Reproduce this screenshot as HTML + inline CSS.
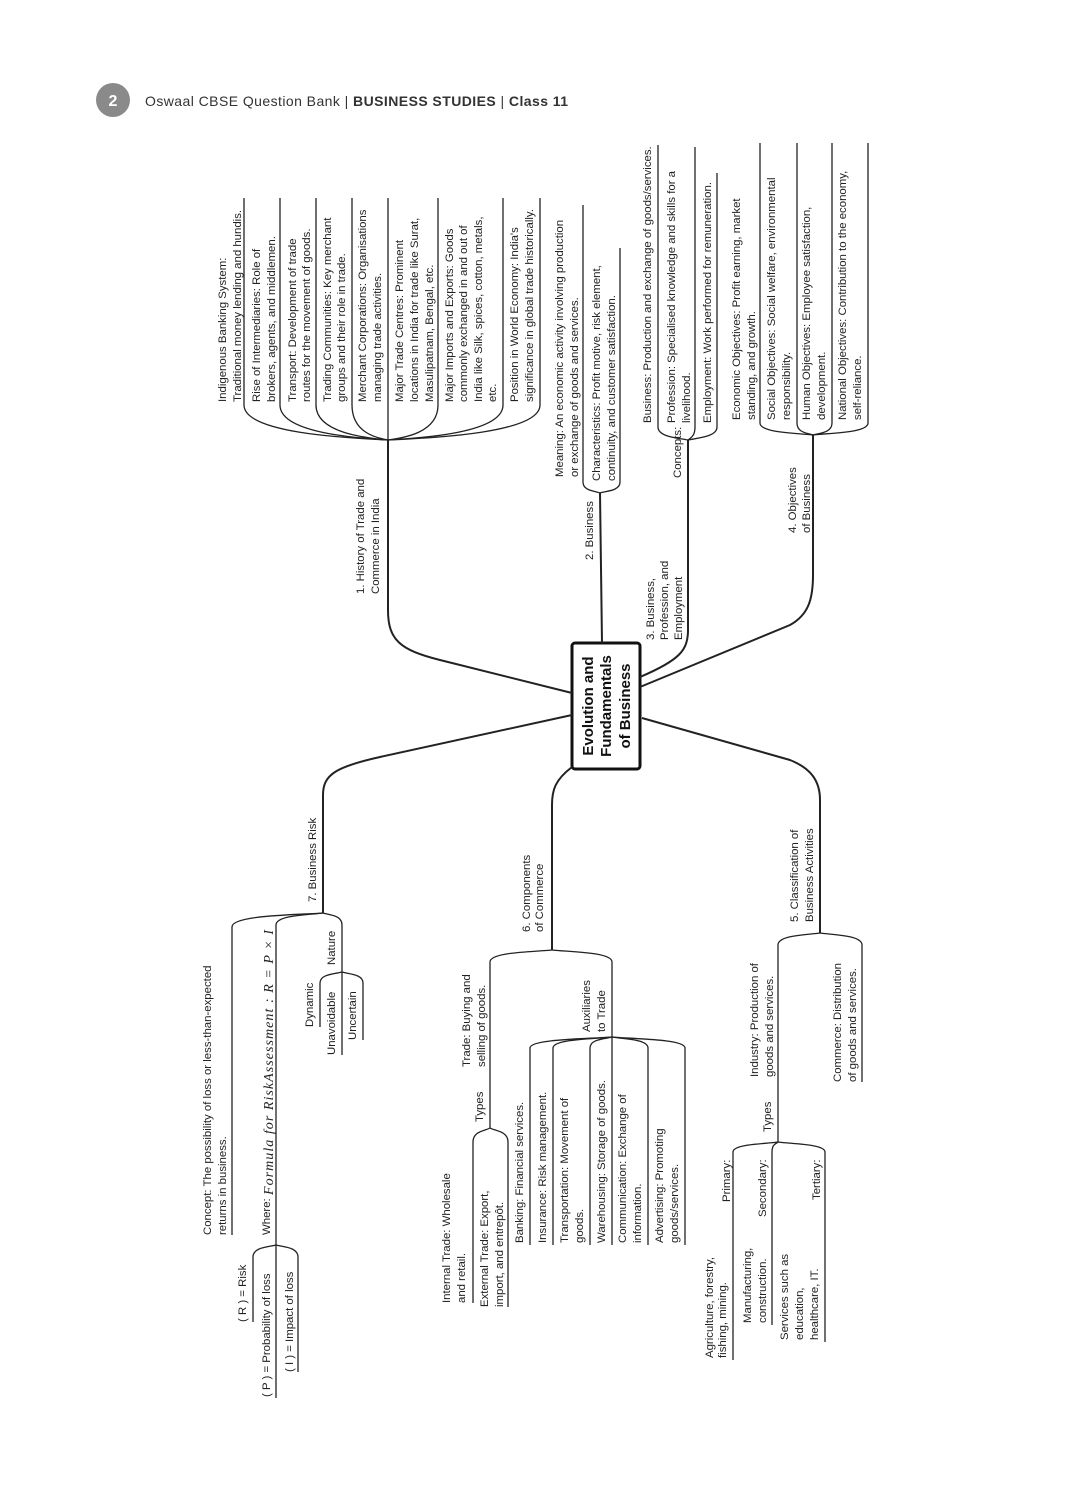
<!DOCTYPE html>
<html><head><meta charset="utf-8"><style>
html,body{margin:0;padding:0;background:#fff;}
svg{display:block}
text{font-family:"Liberation Sans",sans-serif;font-size:11.4px;fill:#222;}
.hd{font-size:14px;fill:#333;}
.ctr{font-size:15px;font-weight:bold;fill:#111;}
path{fill:none;stroke:#222;stroke-width:1.3;}
.main{stroke-width:2;}
.frm{font-family:"Liberation Serif",serif;font-style:italic;font-size:14px;}
</style></head><body>
<svg width="1091" height="1500" viewBox="0 0 1091 1500" xmlns="http://www.w3.org/2000/svg">
<circle cx="113" cy="100" r="17" fill="#8a8a8a"/>
<text x="113" y="106" text-anchor="middle" style="font-size:16px;font-weight:bold;fill:#fff">2</text>
<text class="hd" x="145" y="106" textLength="423">Oswaal CBSE Question Bank | <tspan font-weight="bold">BUSINESS STUDIES</tspan> | <tspan font-weight="bold">Class 11</tspan></text>

<rect x="572" y="643" width="68" height="126" rx="3" fill="#fff" stroke="#111" stroke-width="3"/>
<text class="ctr" text-anchor="middle" transform="translate(593,706) rotate(-90)">Evolution and</text>
<text class="ctr" text-anchor="middle" transform="translate(611,706) rotate(-90)">Fundamentals</text>
<text class="ctr" text-anchor="middle" transform="translate(630,706) rotate(-90)">of Business</text>

<path class="main" d="M572 693 L440 660 C400 650 388 640 388 610 L388 440"/>
<path class="main" d="M602 643 L600 493"/>
<path class="main" d="M640 677 C680 660 688 650 688 630 L688 440"/>
<path class="main" d="M640 687 L790 625 C808 615 813 600 813 575 L813 435"/>
<path class="main" d="M642 718 L790 760 C810 768 820 780 820 800 L820 933"/>
<path class="main" d="M572 767 C555 780 552 790 552 805 L552 950"/>
<path class="main" d="M572 715 L380 757 C335 767 323 775 323 795 L323 913"/>

<!-- Branch 1 -->
<path d="M244 198 L244 405 C244 433 345 438 388 440"/>
<path d="M280 198 L280 405 C280 433 356 438 388 440"/>
<path d="M316 198 L316 405 C316 433 366 438 388 440"/>
<path d="M352 198 L352 405 C352 433 377 438 388 440"/>
<path d="M388 198 L388 440"/>
<path d="M438 198 L438 405 C438 433 403 438 388 440"/>
<path d="M503 198 L503 405 C503 433 422 438 388 440"/>
<path d="M540 198 L540 405 C540 433 434 438 388 440"/>
<text transform="translate(364,594) rotate(-90)">1. History of Trade and</text>
<text transform="translate(379,594) rotate(-90)">Commerce in India</text>
<text transform="translate(226,402) rotate(-90)">Indigenous Banking System:</text>
<text transform="translate(241,402) rotate(-90)">Traditional money lending and hundis.</text>
<text transform="translate(260,402) rotate(-90)">Rise of Intermediaries: Role of</text>
<text transform="translate(275,402) rotate(-90)">brokers, agents, and middlemen.</text>
<text transform="translate(296,402) rotate(-90)">Transport: Development of trade</text>
<text transform="translate(310,402) rotate(-90)">routes for the movement of goods.</text>
<text transform="translate(331,402) rotate(-90)">Trading Communities: Key merchant</text>
<text transform="translate(345,402) rotate(-90)">groups and their role in trade.</text>
<text transform="translate(366,402) rotate(-90)">Merchant Corporations: Organisations</text>
<text transform="translate(381,402) rotate(-90)">managing trade activities.</text>
<text transform="translate(403,402) rotate(-90)">Major Trade Centres: Prominent</text>
<text transform="translate(418,402) rotate(-90)">locations in India for trade like Surat,</text>
<text transform="translate(433,402) rotate(-90)">Masulipatnam, Bengal, etc.</text>
<text transform="translate(453,402) rotate(-90)">Major Imports and Exports: Goods</text>
<text transform="translate(467,402) rotate(-90)">commonly exchanged in and out of</text>
<text transform="translate(482,402) rotate(-90)">India like Silk, spices, cotton, metals,</text>
<text transform="translate(496,402) rotate(-90)">etc.</text>
<text transform="translate(518,402) rotate(-90)">Position in World Economy: India's</text>
<text transform="translate(533,402) rotate(-90)">significance in global trade historically.</text>

<!-- Branch 2 -->
<path d="M583 205 L583 482 C583 491 595 491 600 493"/>
<path d="M620 248 L620 482 C620 491 606 491 600 493"/>
<text transform="translate(593,560) rotate(-90)">2. Business</text>
<text transform="translate(563,477) rotate(-90)">Meaning: An economic activity involving production</text>
<text transform="translate(578,477) rotate(-90)">or exchange of goods and services.</text>
<text transform="translate(600,481) rotate(-90)">Characteristics: Profit motive, risk element,</text>
<text transform="translate(615,481) rotate(-90)">continuity, and customer satisfaction.</text>

<!-- Branch 3 -->
<path d="M658 145 L658 427 C658 437 678 438 688 440"/>
<path d="M695 147 L695 427 C695 437 690 438 688 440"/>
<path d="M717 173 L717 427 C717 437 697 438 688 440"/>
<text transform="translate(654,640) rotate(-90)">3. Business,</text>
<text transform="translate(668,640) rotate(-90)">Profession, and</text>
<text transform="translate(682,640) rotate(-90)">Employment</text>
<text transform="translate(681,478) rotate(-90)">Concepts:</text>
<text transform="translate(651,423) rotate(-90)">Business: Production and exchange of goods/services.</text>
<text transform="translate(675,423) rotate(-90)">Profession: Specialised knowledge and skills for a</text>
<text transform="translate(690,423) rotate(-90)">livelihood.</text>
<text transform="translate(711,423) rotate(-90)">Employment: Work performed for remuneration.</text>

<!-- Branch 4 -->
<path d="M760 143 L760 423 C760 433 797 433 813 435"/>
<path d="M797 143 L797 423 C797 433 808 433 813 435"/>
<path d="M832 143 L832 423 C832 433 819 433 813 435"/>
<path d="M868 143 L868 423 C868 433 829 433 813 435"/>
<text transform="translate(796,533) rotate(-90)">4. Objectives</text>
<text transform="translate(810,533) rotate(-90)">of Business</text>
<text transform="translate(740,420) rotate(-90)">Economic Objectives: Profit earning, market</text>
<text transform="translate(755,420) rotate(-90)">standing, and growth.</text>
<text transform="translate(775,420) rotate(-90)">Social Objectives: Social welfare, environmental</text>
<text transform="translate(790,420) rotate(-90)">responsibility.</text>
<text transform="translate(810,420) rotate(-90)">Human Objectives: Employee satisfaction,</text>
<text transform="translate(825,420) rotate(-90)">development.</text>
<text transform="translate(846,420) rotate(-90)">National Objectives: Contribution to the economy,</text>
<text transform="translate(861,420) rotate(-90)">self-reliance.</text>

<!-- Branch 5 -->
<path d="M820 933 C807 935 778 935 778 945 L778 1142"/>
<path d="M820 933 C833 935 862 935 862 945 L862 1082"/>
<path d="M778 1142 C765 1144 733 1144 733 1152 L733 1360"/>
<path d="M778 1142 C776 1144 772 1144 772 1152 L772 1325"/>
<path d="M778 1142 C792 1144 825 1144 825 1152 L825 1342"/>
<text transform="translate(798,922) rotate(-90)">5. Classification of</text>
<text transform="translate(813,922) rotate(-90)">Business Activities</text>
<text transform="translate(758,1077) rotate(-90)">Industry: Production of</text>
<text transform="translate(773,1077) rotate(-90)">goods and services.</text>
<text transform="translate(841,1082) rotate(-90)">Commerce: Distribution</text>
<text transform="translate(856,1082) rotate(-90)">of goods and services.</text>
<text transform="translate(771,1132) rotate(-90)">Types</text>
<text transform="translate(730,1202) rotate(-90)">Primary:</text>
<text transform="translate(713,1358) rotate(-90)">Agriculture, forestry,</text>
<text transform="translate(726,1358) rotate(-90)">fishing, mining.</text>
<text transform="translate(766,1217) rotate(-90)">Secondary:</text>
<text transform="translate(751,1323) rotate(-90)">Manufacturing,</text>
<text transform="translate(766,1323) rotate(-90)">construction.</text>
<text transform="translate(820,1200) rotate(-90)">Tertiary:</text>
<text transform="translate(788,1340) rotate(-90)">Services such as</text>
<text transform="translate(803,1340) rotate(-90)">education,</text>
<text transform="translate(818,1340) rotate(-90)">healthcare, IT.</text>

<!-- Branch 6 -->
<path d="M552 950 C533 952 490 952 490 962 L490 1128"/>
<path d="M552 950 C570 952 612 952 612 962 L612 1037"/>
<path d="M490 1128 C485 1131 473 1131 473 1142 L473 1303"/>
<path d="M490 1128 C495 1131 508 1131 508 1142 L508 1307"/>
<path d="M612 1037 C587 1039 530 1039 530 1048 L530 1245"/>
<path d="M612 1037 C594 1039 553 1039 553 1048 L553 1245"/>
<path d="M612 1037 C605 1039 590 1039 590 1048 L590 1245"/>
<path d="M612 1037 L612 1245"/>
<path d="M612 1037 C623 1039 648 1039 648 1048 L648 1245"/>
<path d="M612 1037 C634 1039 685 1039 685 1048 L685 1245"/>
<text transform="translate(530,932) rotate(-90)">6. Components</text>
<text transform="translate(543,932) rotate(-90)">of Commerce</text>
<text transform="translate(470,1067) rotate(-90)">Trade: Buying and</text>
<text transform="translate(485,1067) rotate(-90)">selling of goods.</text>
<text transform="translate(483,1122) rotate(-90)">Types</text>
<text transform="translate(450,1303) rotate(-90)">Internal Trade: Wholesale</text>
<text transform="translate(465,1303) rotate(-90)">and retail.</text>
<text transform="translate(488,1307) rotate(-90)">External Trade: Export,</text>
<text transform="translate(503,1307) rotate(-90)">import, and entrepôt.</text>
<text transform="translate(590,1032) rotate(-90)">Auxiliaries</text>
<text transform="translate(605,1032) rotate(-90)">to Trade</text>
<text transform="translate(523,1243) rotate(-90)">Banking: Financial services.</text>
<text transform="translate(546,1243) rotate(-90)">Insurance: Risk management.</text>
<text transform="translate(568,1243) rotate(-90)">Transportation: Movement of</text>
<text transform="translate(583,1243) rotate(-90)">goods.</text>
<text transform="translate(605,1243) rotate(-90)">Warehousing: Storage of goods.</text>
<text transform="translate(626,1243) rotate(-90)">Communication: Exchange of</text>
<text transform="translate(641,1243) rotate(-90)">information.</text>
<text transform="translate(663,1243) rotate(-90)">Advertising: Promoting</text>
<text transform="translate(678,1243) rotate(-90)">goods/services.</text>

<!-- Branch 7 -->
<path d="M323 913 C296 915 232 915 232 927 L232 1235"/>
<path d="M323 913 C309 915 276 915 276 925 L276 1398"/>
<path d="M323 913 C329 915 342 915 342 925 L342 1055"/>
<path d="M276 1245 C269 1247 253 1247 253 1257 L253 1322"/>
<path d="M276 1245 C283 1247 298 1247 298 1257 L298 1372"/>
<path d="M342 972 C335 974 320 974 320 983 L320 1027"/>
<path d="M342 972 C348 974 363 974 363 983 L363 1040"/>
<text transform="translate(316,902) rotate(-90)">7. Business Risk</text>
<text transform="translate(211,1235) rotate(-90)">Concept: The possibility of loss or less-than-expected</text>
<text transform="translate(226,1235) rotate(-90)">returns in business.</text>
<text class="frm" transform="translate(273,1195) rotate(-90)" textLength="265">Formula for RiskAssessment : R = P × I</text>
<text transform="translate(270,1235) rotate(-90)">Where:</text>
<text transform="translate(246,1322) rotate(-90)">( R ) = Risk</text>
<text transform="translate(270,1397) rotate(-90)">( P ) = Probability of loss</text>
<text transform="translate(293,1372) rotate(-90)">( I ) = Impact of loss</text>
<text transform="translate(335,965) rotate(-90)">Nature</text>
<text transform="translate(313,1027) rotate(-90)">Dynamic</text>
<text transform="translate(335,1055) rotate(-90)">Unavoidable</text>
<text transform="translate(356,1040) rotate(-90)">Uncertain</text>
</svg>
</body></html>
